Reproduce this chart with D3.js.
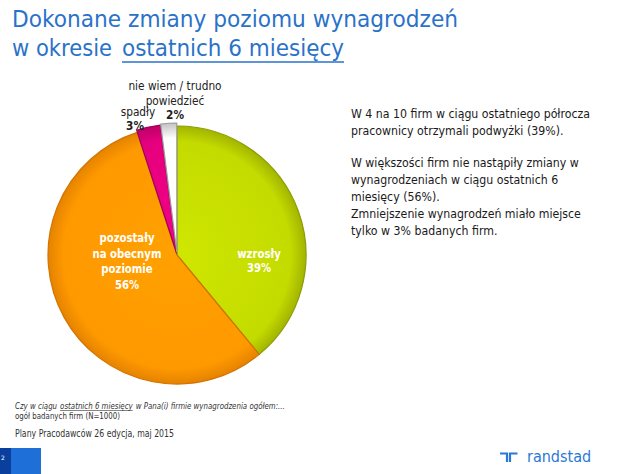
<!DOCTYPE html>
<html><head><meta charset="utf-8">
<script src="https://cdn.jsdelivr.net/npm/d3@7"></script>
<style>body{margin:0;background:#fff;overflow:hidden}</style></head>
<body>
<svg id="c" width="640" height="474"></svg>
<script>
// ---- data ----
const categories = ["wzrosły", "pozostały na obecnym poziomie", "spadły", "nie wiem / trudno powiedzieć"];
const values = [39, 56, 3, 2];
const labelLines = [["wzrosły"], ["pozostały", "na obecnym", "poziomie"], ["spadły"], ["nie wiem / trudno", "powiedzieć"]];
const titleLines = ["Dokonane zmiany poziomu wynagrodzeń", "w okresie", "ostatnich 6 miesięcy"];
const bodyLines = [
  "W 4 na 10 firm w ciągu ostatniego półrocza",
  "pracownicy otrzymali podwyżki (39%).",
  "W większości firm nie nastąpiły zmiany w",
  "wynagrodzeniach w ciągu ostatnich 6",
  "miesięcy (56%).",
  "Zmniejszenie wynagrodzeń miało miejsce",
  "tylko w 3% badanych firm."
];
const noteQ = ["Czy w ciągu", "ostatnich 6 miesięcy", "w Pana(i) firmie wynagrodzenia ogółem:..."];
const noteBase = "ogół badanych firm (N=1000)";
const source = "Plany Pracodawców 26 edycja, maj 2015";

// ---- styles ----
const colors = ["#c4db00", "#ff9900", "#e6007e", "#ffffff"];
const rims = ["#8c9c00", "#d27400", "#a3005a", "#9c9c9c"];
const explode = [0, 0, 2, 3];
const FONT = "DejaVu Sans, Verdana, sans-serif";
const COND = 0.88;

const svg = d3.select("#c");
const defs = svg.append("defs");
const cx = 177, cy = 255, R = 129;

function condense(sel, f) {
  sel.each(function () {
    const w = this.getComputedTextLength();
    d3.select(this).attr("textLength", w * (f || COND)).attr("lengthAdjust", "spacingAndGlyphs");
  });
  return sel;
}

// ---- title ----
const blue = "#2a72c8";
function titleText(s, x, y, w) {
  return svg.append("text").attr("x", x).attr("y", y).attr("font-family", FONT).attr("font-size", 23)
    .attr("fill", blue).attr("textLength", w).attr("lengthAdjust", "spacingAndGlyphs").text(s);
}
titleText(titleLines[0], 12, 27, 446);
titleText(titleLines[1], 12, 56, 100);
titleText(titleLines[2], 122, 56, 222);
svg.append("line").attr("x1", 122).attr("x2", 344).attr("y1", 62).attr("y2", 62).attr("stroke", blue).attr("stroke-width", 1.6);

// ---- pie ----
const pie = d3.pie().sort(null).value(d => d).startAngle(0).endAngle(2 * Math.PI);
const arcs = pie(values);
const arc = d3.arc().innerRadius(0).outerRadius(R);

arcs.forEach((a, i) => {
  const g = defs.append("radialGradient").attr("id", "g" + i)
    .attr("gradientUnits", "userSpaceOnUse").attr("cx", 0).attr("cy", 0).attr("r", R);
  g.append("stop").attr("offset", "0%").attr("stop-color", d3.color(colors[i]).brighter(0.15));
  g.append("stop").attr("offset", "88%").attr("stop-color", colors[i]);
  g.append("stop").attr("offset", "100%").attr("stop-color", d3.interpolateRgb(colors[i], rims[i])(0.6));
});

const pg = svg.append("g").attr("transform", `translate(${cx},${cy})`);
pg.selectAll("path").data(arcs).join("path")
  .attr("transform", (d, i) => {
    const m = (d.startAngle + d.endAngle) / 2;
    return `translate(${Math.sin(m) * explode[i]},${-Math.cos(m) * explode[i]})`;
  })
  .attr("d", arc)
  .attr("fill", (d, i) => `url(#g${i})`)
  .attr("stroke", (d, i) => rims[i])
  .attr("stroke-width", 1.2)
  .attr("stroke-linejoin", "round");

// labels
function label(lines, pct, x, y, opts) {
  const lh = opts.lh || 15;
  const all = lines.concat([pct]);
  all.forEach((s, k) => {
    const isPct = k === all.length - 1;
    const t = svg.append("text").attr("x", x + (isPct && opts.pdx ? opts.pdx : 0)).attr("y", y + k * lh)
      .attr("text-anchor", "middle").attr("font-family", FONT)
      .attr("font-size", opts.size || 11.5)
      .attr("font-weight", (opts.bold || isPct) ? "bold" : "normal")
      .attr("fill", opts.color).text(s);
    condense(t);
  });
}
const pct = values.map(v => v + "%");
label(labelLines[0], pct[0], cx + 82, cy + 3, {color: "#ffffff", bold: true, lh: 14});
label(labelLines[1], pct[1], cx - 50, cy - 13, {color: "#ffffff", bold: true, lh: 15.5});
label(labelLines[2], pct[2], cx - 39, cy - 139, {color: "#222", lh: 14, size: 12, pdx: -3});
label(labelLines[3], pct[3], cx - 2, cy - 165, {color: "#222", lh: 14.5, size: 12});

// ---- right text ----
const bodyY = [118, 135, 167, 184, 201, 218, 235];
bodyLines.forEach((s, i) => {
  condense(svg.append("text").attr("x", 351).attr("y", bodyY[i]).attr("font-family", FONT)
    .attr("font-size", 12.5).attr("fill", "#1a1a1a").text(s));
});

// ---- notes ----
let nx = 15;
noteQ.forEach((s, i) => {
  const t = svg.append("text").attr("x", nx).attr("y", 409).attr("font-family", FONT)
    .attr("font-size", 8).attr("font-style", "italic").attr("fill", "#333").text(s);
  condense(t);
  const w = +t.attr("textLength");
  if (i === 1) svg.append("line").attr("x1", nx).attr("x2", nx + w).attr("y1", 410.5).attr("y2", 410.5)
    .attr("stroke", "#333").attr("stroke-width", 0.6);
  nx += w + 3;
});
condense(svg.append("text").attr("x", 15).attr("y", 419).attr("font-family", FONT)
  .attr("font-size", 8).attr("fill", "#333").text(noteBase));
svg.append("text").attr("x", 15).attr("y", 437).attr("font-family", FONT)
  .attr("font-size", 10.5).attr("fill", "#333").attr("textLength", 159).attr("lengthAdjust", "spacingAndGlyphs").text(source);

// ---- footer ----
svg.append("rect").attr("x", 0).attr("y", 448).attr("width", 11).attr("height", 26).attr("fill", "#0b3f9e");
svg.append("rect").attr("x", 11).attr("y", 448).attr("width", 30).attr("height", 26).attr("fill", "#1f6fd8");
svg.append("text").attr("x", 1).attr("y", 460).attr("font-family", FONT).attr("font-size", 6).attr("fill", "#fff").text("2");

const lb = "#2a78d6";
svg.append("path").attr("d", "M500,453.5 H507 V462").attr("fill", "none").attr("stroke", lb).attr("stroke-width", 2.2);
svg.append("path").attr("d", "M510,462 V453.5 H517.5").attr("fill", "none").attr("stroke", lb).attr("stroke-width", 2.2);
condense(svg.append("text").attr("x", 527).attr("y", 462).attr("font-family", FONT)
  .attr("font-size", 16).attr("fill", lb).text("randstad"), 0.9);
</script>
</body></html>
